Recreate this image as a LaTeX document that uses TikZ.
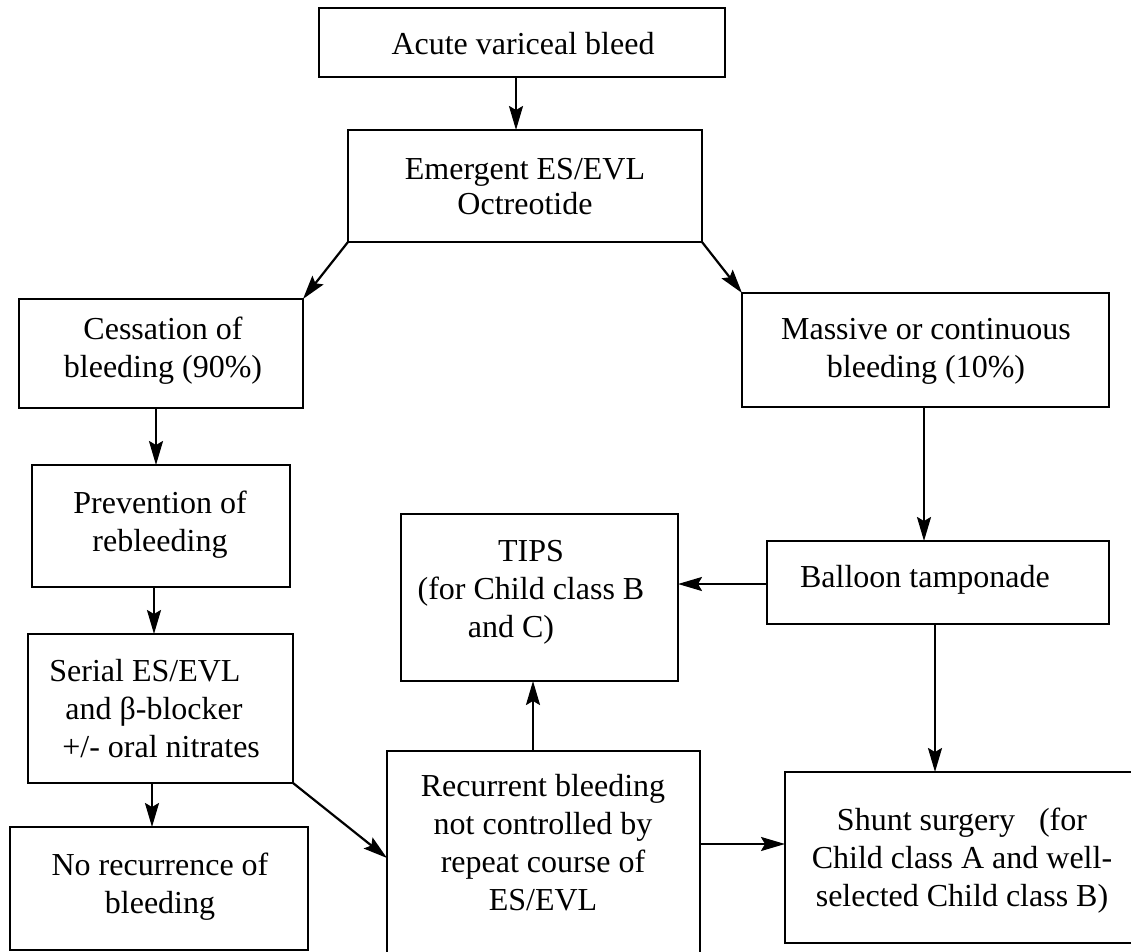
\documentclass[tikz,border=0pt]{standalone}
\usepackage{fontspec}
\setmainfont{Liberation Serif}
\usetikzlibrary{arrows.meta}
\begin{document}
\begin{tikzpicture}[x=0.5pt,y=-0.5pt,
  box/.style={draw, line width=1.2pt, inner sep=0pt, outer sep=0pt},
  txt/.style={inner sep=0pt, align=center, font=\fontsize{16pt}{19pt}\selectfont},
  arr/.style={line width=1.1pt, -{Stealth[length=12pt,width=7pt,inset=2pt]}}]
\fill[white] (0,0) rectangle (1131,952);
\useasboundingbox (0,0) rectangle (1131,952);
% boxes
\node[box, minimum width=203pt, minimum height=34.5pt] (n1) at (522,42.5) {};
\node[box, minimum width=177pt, minimum height=56pt] (n2) at (525,186) {};
\node[box, minimum width=142pt, minimum height=54.5pt] (n3) at (161,353.5) {};
\node[box, minimum width=183.5pt, minimum height=57pt] (n4) at (925.5,350) {};
\node[box, minimum width=129pt, minimum height=61pt] (n5) at (161,526) {};
\node[box, minimum width=132.5pt, minimum height=74.5pt] (n6) at (160.5,708.5) {};
\node[box, minimum width=149pt, minimum height=61.5pt] (n7) at (159,888.5) {};
\node[box, minimum width=138.5pt, minimum height=83.5pt] (n8) at (539.5,597.5) {};
\node[box, minimum width=171pt, minimum height=41.5pt] (n9) at (938,582.5) {};
\node[box, minimum width=156.5pt, minimum height=109.5pt] (n10) at (543.5,860.5) {};
\node[box, minimum width=177.5pt, minimum height=85.5pt] (n11) at (962.5,857.5) {};
% texts
\node[txt, anchor=base] (t1) at (523,55) {Acute variceal bleed};
\node[txt, font=\fontsize{16pt}{17.5pt}\selectfont] (t2) at (525,186.5) {Emergent ES/EVL\\Octreotide};
\node[txt] (t3) at (163,350.5) {Cessation of\\bleeding (90\%)};
\node[txt] (t4) at (926,351.5) {Massive or continuous\\bleeding (10\%)};
\node[txt] (t5) at (160,524.5) {Prevention of\\rebleeding};
\node[txt, align=left, anchor=west] (t6) at (49,709) {Serial ES/EVL\\\hspace*{8pt}and β-blocker\\\hspace*{6.5pt}+/- oral nitrates};
\node[txt] (t7) at (160,886.5) {No recurrence of\\bleeding};
\node[txt] (t8) at (531,592.5) {TIPS\\(for Child class B\\and C)\hspace*{20pt}};
\node[txt, anchor=base] (t9) at (925,588) {Balloon tamponade};
\node[txt] (t10) at (543,843) {Recurrent bleeding\\not controlled by\\repeat course of\\ES/EVL};
\node[txt] (t11) at (962,860.5) {Shunt surgery~~ (for\\Child class A and well-\\selected Child class B)};
% connector helpers
\coordinate (a1) at (516,0);
\coordinate (a2) at (156,0);
\coordinate (a3) at (154,0);
\coordinate (a4) at (152,0);
\coordinate (a5) at (0,858);
\coordinate (a6) at (924,0);
\coordinate (a7) at (0,584);
\coordinate (a8) at (935,0);
\coordinate (a9) at (533,0);
\coordinate (a10) at (0,844);
% connectors
\draw[arr] (n1.south -| a1) -- (n2.north -| a1);
\draw[arr] (n2.south west) -- (n3.north east);
\draw[arr] (n2.south east) -- (n4.north west);
\draw[arr] (n3.south -| a2) -- (n5.north -| a2);
\draw[arr] (n5.south -| a3) -- (n6.north -| a3);
\draw[arr] (n6.south -| a4) -- (n7.north -| a4);
\draw[arr] (n6.south east) -- (n10.west |- a5);
\draw[arr] (n4.south -| a6) -- (n9.north -| a6);
\draw[arr] (n9.west |- a7) -- (n8.east |- a7);
\draw[arr] (n9.south -| a8) -- (n11.north -| a8);
\draw[arr] (n10.north -| a9) -- (n8.south -| a9);
\draw[arr] (n10.east |- a10) -- (n11.west |- a10);
\end{tikzpicture}
\end{document}
